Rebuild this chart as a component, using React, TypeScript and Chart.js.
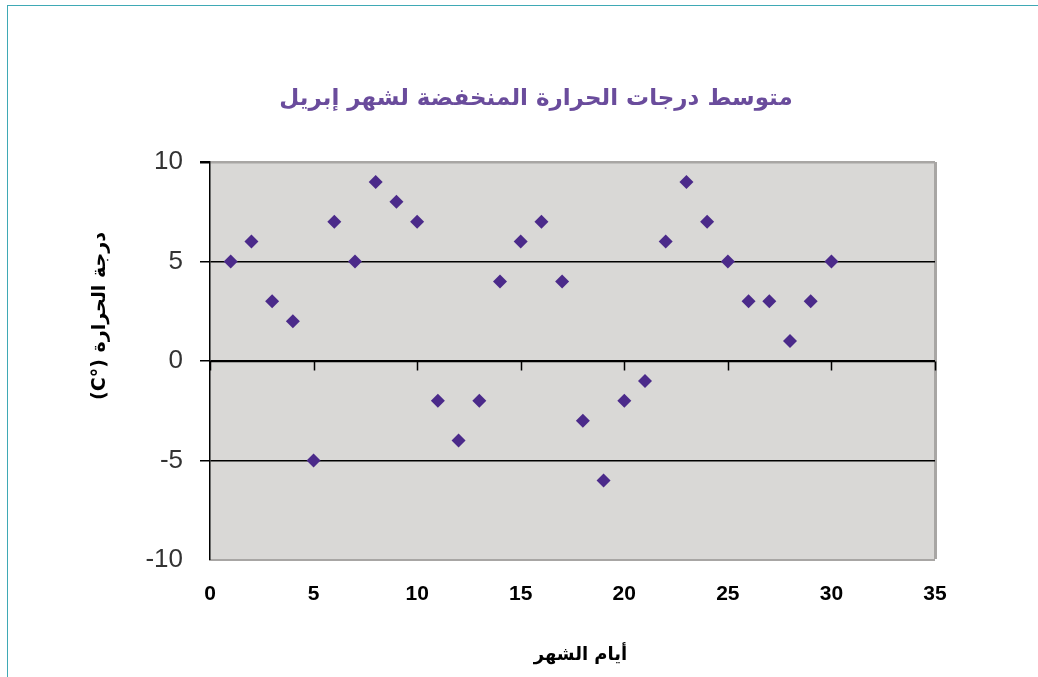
import React, { useEffect, useRef } from "react";
import { Chart, registerables } from "chart.js";

Chart.register(...registerables);

const chartTitle = "متوسط درجات الحرارة المنخفضة لشهر إبريل";
const xAxisTitle = "أيام الشهر";
const yAxisTitle = "درجة الحرارة (°C)";

const days = [1, 2, 3, 4, 5, 6, 7, 8, 9, 10, 11, 12, 13, 14, 15, 16, 17, 18, 19, 20, 21, 22, 23, 24, 25, 26, 27, 28, 29, 30];
const lowTemps = [5, 6, 3, 2, -5, 7, 5, 9, 8, 7, -2, -4, -2, 4, 6, 7, 4, -3, -6, -2, -1, 6, 9, 7, 5, 3, 3, 1, 3, 5];

const xTicks = [0, 5, 10, 15, 20, 25, 30, 35];
const yTicks = [-10, -5, 0, 5, 10];

const W = 1038;
const H = 677;

const chartDecor = {
  id: "chartDecor",
  beforeDraw(chart: any) {
    const { ctx, chartArea } = chart;
    ctx.save();
    ctx.fillStyle = "#d9d8d6";
    ctx.fillRect(chartArea.left, chartArea.top, chartArea.right - chartArea.left, chartArea.bottom - chartArea.top);
    ctx.restore();
  },
  beforeDatasetsDraw(chart: any) {
    const { ctx, scales } = chart;
    const x = scales.x;
    const y = scales.y;
    const y0 = Math.round(y.getPixelForValue(0)) + 0.5;
    ctx.save();
    ctx.strokeStyle = "#000";
    ctx.lineWidth = 1.5;
    ctx.beginPath();
    ctx.moveTo(x.left, y0);
    ctx.lineTo(x.right, y0);
    ctx.stroke();
    for (const v of xTicks) {
      const px = Math.round(x.getPixelForValue(v)) + 0.5;
      ctx.beginPath();
      ctx.moveTo(px, y0);
      ctx.lineTo(px, y0 + 9);
      ctx.stroke();
    }
    ctx.restore();
  },
  afterDraw(chart: any) {
    const { ctx, scales } = chart;
    const y = scales.y;
    const x = scales.x;

    // chart title
    ctx.save();
    ctx.direction = "rtl";
    ctx.textAlign = "center";
    ctx.textBaseline = "middle";
    ctx.fillStyle = "#6a4c9c";
    ctx.font = "bold 23px 'DejaVu Sans'";
    ctx.fillText(chartTitle, 536, 99);
    ctx.restore();

    // y axis title
    const cy = (y.top + y.bottom) / 2 - 45;
    ctx.save();
    ctx.translate(100, cy);
    ctx.rotate(-Math.PI / 2);
    ctx.direction = "rtl";
    ctx.textAlign = "center";
    ctx.textBaseline = "middle";
    ctx.fillStyle = "#000";
    ctx.font = "bold 19px 'DejaVu Sans'";
    ctx.fillText(yAxisTitle, 0, 0);
    ctx.restore();

    // x axis title
    ctx.save();
    ctx.direction = "rtl";
    ctx.textAlign = "center";
    ctx.textBaseline = "middle";
    ctx.fillStyle = "#000";
    ctx.font = "bold 18px 'DejaVu Sans'";
    ctx.fillText(xAxisTitle, (x.left + x.right) / 2 + 8, 655);
    ctx.restore();
  },
};

export default function App() {
  const ref = useRef<HTMLCanvasElement | null>(null);

  useEffect(() => {
    if (!ref.current) return;
    const chart = new Chart(ref.current, {
      type: "scatter",
      data: {
        datasets: [
          {
            label: "t",
            data: days.map((d, i) => ({ x: d, y: lowTemps[i] })),
            pointStyle: "rectRot",
            pointRadius: 7,
            pointHoverRadius: 7,
            backgroundColor: "#4b2a8a",
            borderColor: "#4b2a8a",
            borderWidth: 0,
          },
        ],
      },
      options: {
        animation: false,
        responsive: false,
        devicePixelRatio: 1,
        layout: { padding: { left: 0, right: 103, top: 162, bottom: 0 } },
        plugins: {
          legend: { display: false },
          tooltip: { enabled: false },
          title: { display: false },
        },
        scales: {
          x: {
            type: "linear",
            min: 0,
            max: 35,
            afterBuildTicks: (s: any) => {
              s.ticks = xTicks.map((v) => ({ value: v }));
            },
            afterFit: (s: any) => {
              s.height = H - 560;
            },
            ticks: {
              stepSize: 5,
              color: "#000",
              padding: 22,
              font: { family: "'Liberation Sans'", size: 21, weight: "bold" },
            },
            grid: {
              drawTicks: false,
              lineWidth: (c: any) => (c.tick && c.tick.value === 35 ? 3 : 0),
              color: (c: any) => (c.tick && c.tick.value === 35 ? "#a8a6a4" : "rgba(0,0,0,0)"),
            },
            border: { display: true, color: "#a8a6a4", width: 2 },
          },
          y: {
            type: "linear",
            min: -10,
            max: 10,
            afterBuildTicks: (s: any) => {
              s.ticks = yTicks.map((v) => ({ value: v }));
            },
            afterFit: (s: any) => {
              s.width = 210;
            },
            ticks: {
              stepSize: 5,
              color: "#333",
              padding: 17,
              font: { family: "'Liberation Sans'", size: 26 },
            },
            grid: {
              drawTicks: true,
              tickLength: 10,
              tickColor: "#000",
              lineWidth: (c: any) => (c.tick && c.tick.value === 10 ? 2.5 : c.tick && c.tick.value === -10 ? 0 : 1.5),
              color: (c: any) =>
                c.tick && c.tick.value === 10 ? "#a8a6a4" : c.tick && c.tick.value === -10 ? "rgba(0,0,0,0)" : "#000",
            },
            border: { display: true, color: "#000", width: 1.5 },
          },
        },
      },
      plugins: [chartDecor],
    });
    return () => chart.destroy();
  }, []);

  return (
    <div style={{ position: "fixed", left: 0, top: 0, width: W, height: H, background: "#fff" }}>
      <canvas ref={ref} width={W} height={H} style={{ position: "absolute", left: 0, top: 0 }} />
      <div
        style={{
          position: "absolute",
          left: 7,
          top: 5,
          width: W - 7,
          height: H - 5,
          borderLeft: "1px solid #3fa9b5",
          borderTop: "1px solid #3fa9b5",
          pointerEvents: "none",
        }}
      />
    </div>
  );
}
